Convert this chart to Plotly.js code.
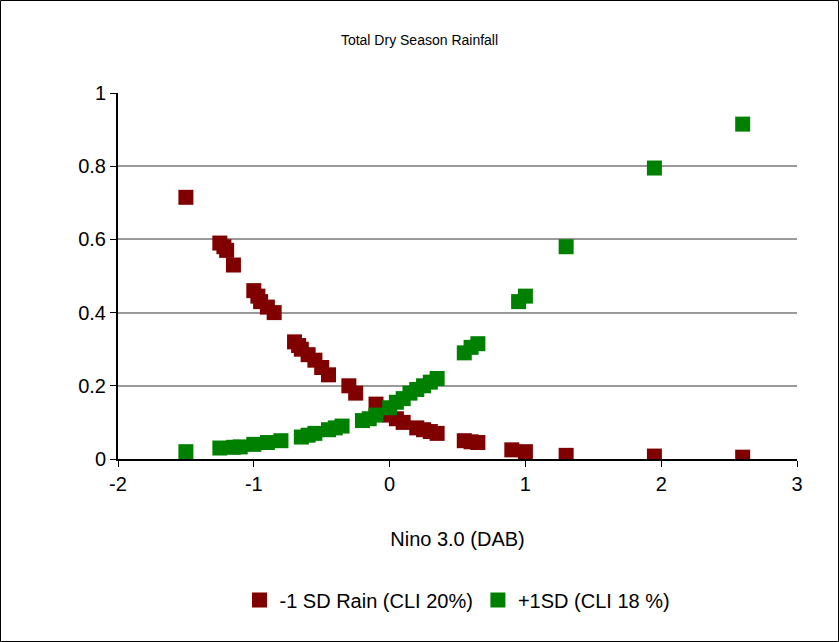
<!DOCTYPE html>
<html>
<head>
<meta charset="utf-8">
<script src="https://cdn.plot.ly/plotly-3.0.1.min.js"></script>
<style>
  body { margin: 0; }
</style>
</head>
<body>
<div id="plot"></div>
<script>
// Nino 3.0 values and probabilities
const dryX = [-1.5, -1.25, -1.22, -1.2, -1.15, -1.0, -0.97, -0.95, -0.9, -0.85, -0.7, -0.67, -0.65, -0.6, -0.55, -0.5, -0.45, -0.3, -0.25, -0.1, 0, 0.05, 0.1, 0.2, 0.25, 0.3, 0.35, 0.55, 0.6, 0.65, 0.9, 1.0, 1.3, 1.95, 2.6];
const dryY = [0.715, 0.59, 0.58, 0.57, 0.53, 0.46, 0.445, 0.43, 0.415, 0.40, 0.32, 0.31, 0.30, 0.285, 0.27, 0.25, 0.23, 0.20, 0.18, 0.15, 0.12, 0.11, 0.10, 0.085, 0.08, 0.075, 0.07, 0.05, 0.047, 0.045, 0.025, 0.02, 0.01, 0.008, 0.005];
const wetX = [-1.5, -1.25, -1.15, -1.1, -1.0, -0.9, -0.8, -0.65, -0.6, -0.55, -0.45, -0.4, -0.35, -0.2, -0.15, -0.1, 0, 0.05, 0.1, 0.15, 0.2, 0.25, 0.3, 0.35, 0.55, 0.6, 0.65, 0.95, 1.0, 1.3, 1.95, 2.6];
const wetY = [0.02, 0.03, 0.032, 0.033, 0.04, 0.045, 0.05, 0.06, 0.065, 0.07, 0.08, 0.085, 0.09, 0.105, 0.11, 0.12, 0.14, 0.155, 0.165, 0.18, 0.19, 0.2, 0.21, 0.22, 0.29, 0.305, 0.315, 0.43, 0.445, 0.58, 0.795, 0.915];
const xTicks = [-2, -1, 0, 1, 2, 3];
const xTickText = ['-2', '-1', '0', '1', '2', '3'];

const mk = (c) => ({ symbol: 'square', size: 15, color: c });

const data = [
    { x: dryX, y: dryY, mode: 'markers', type: 'scatter', name: '-1 SD Rain (CLI 20%)', marker: mk('#800000') },
    { x: wetX, y: wetY, mode: 'markers', type: 'scatter', name: '+1SD (CLI 18 %)', marker: mk('#008000') },
];

const layout = {
    width: 839, height: 642,
    margin: { l: 118, r: 42, t: 93, b: 183 },
    paper_bgcolor: '#fff', plot_bgcolor: '#fff',
    font: { family: 'Liberation Sans, Arial, sans-serif', size: 20, color: '#000' },
    title: { text: 'Total Dry Season Rainfall', font: { size: 14 }, x: 0.5, y: 0.945, xanchor: 'center' },
    showlegend: true,
    legend: { orientation: 'h', x: 0.5, xanchor: 'center', y: -0.385, yanchor: 'middle', font: { size: 20 } },
    xaxis: {
        range: [-2, 3], tickvals: xTicks, ticktext: xTickText, showgrid: false, zeroline: false,
        showline: true, linecolor: '#000', linewidth: 2,
        ticks: 'outside', ticklen: 6, tickcolor: '#000',
        title: { text: 'Nino 3.0 (DAB)', font: { size: 20 }, standoff: 38 },
    },
    yaxis: {
        range: [0, 1], dtick: 0.2, showgrid: true, gridcolor: '#999', gridwidth: 2, zeroline: false,
        showline: true, linecolor: '#000', linewidth: 2,
        ticks: 'outside', ticklen: 6, tickcolor: '#000',
    },
    shapes: [{ type: 'rect', xref: 'paper', yref: 'paper', x0: -0.1406, x1: 1.0617, y0: -0.4967, y1: 0.2541,
               line: { color: '#000', width: 1 } }],
};
// border rectangle drawn in pixels relative to plot area
const pw = 839 - 118 - 42, ph = 642 - 93 - 183;
layout.shapes[0].x0 = -117.5 / pw; layout.shapes[0].x1 = (pw + 41.5) / pw;
layout.shapes[0].y0 = -182.5 / ph; layout.shapes[0].y1 = (ph + 92.5) / ph;

Plotly.newPlot('plot', data, layout, { displayModeBar: false, staticPlot: true });
</script>
</body>
</html>
